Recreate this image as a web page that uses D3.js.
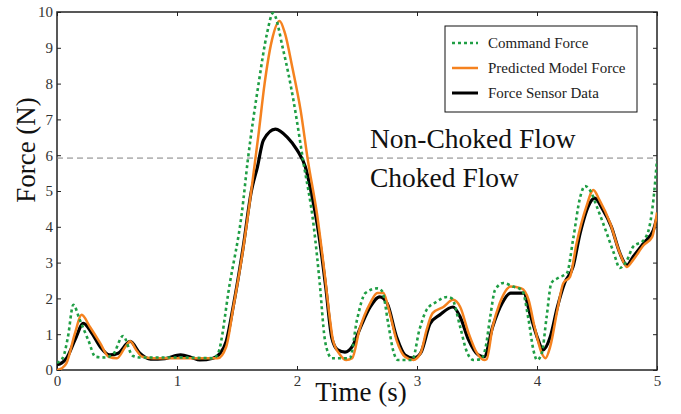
<!DOCTYPE html>
<html>
<head>
<meta charset="utf-8">
<script src="https://cdn.jsdelivr.net/npm/d3@7"></script>
<style>
  body { margin: 0; background: #fff; }
  text { font-family: "Liberation Serif", "Times New Roman", serif; }
</style>
</head>
<body>
<div id="chart"></div>
<script>
// series: [time (s), force (N)]
const commandForce = [
  [0,0.2],[0.05,0.35],[0.09,0.9],[0.136,1.82],[0.19,1.4],[0.26,0.84],[0.32,0.37],[0.4,0.35],[0.47,0.45],
  [0.55,0.95],[0.63,0.4],[0.7,0.35],[1.0,0.35],[1.3,0.33],[1.34,0.45],[1.44,2.42],[1.54,4.38],[1.59,5.86],
  [1.68,8.0],[1.75,9.4],[1.8,9.97],[1.885,8.94],[1.97,7.54],[2.05,5.87],[2.14,4.0],[2.19,2.4],[2.23,0.9],
  [2.26,0.47],[2.29,0.33],[2.44,0.33],[2.5,1.4],[2.57,2.15],[2.67,2.28],[2.71,2.2],[2.76,1.3],[2.8,0.56],
  [2.84,0.28],[2.96,0.28],[3.02,1.12],[3.08,1.68],[3.16,1.9],[3.25,2.04],[3.29,2.0],[3.36,1.2],[3.41,0.56],
  [3.47,0.28],[3.53,0.3],[3.57,0.6],[3.61,1.48],[3.65,2.23],[3.72,2.43],[3.8,2.33],[3.875,2.23],[3.93,1.4],
  [3.97,0.56],[4.0,0.28],[4.04,0.47],[4.08,1.48],[4.12,2.43],[4.175,2.57],[4.25,2.71],[4.3,3.63],[4.36,4.83],
  [4.4,5.14],[4.44,5.03],[4.5,4.55],[4.58,3.83],[4.64,3.27],[4.69,2.85],[4.75,3.07],[4.8,3.44],[4.89,3.63],
  [4.94,4.05],[4.97,4.75],[5.0,5.87]
];
const modelForce = [
  [0,0],[0.04,0.05],[0.08,0.2],[0.15,1.03],[0.205,1.54],[0.275,1.2],[0.36,0.75],[0.43,0.37],[0.5,0.33],
  [0.57,0.65],[0.61,0.8],[0.66,0.56],[0.71,0.37],[0.8,0.33],[1.34,0.33],[1.41,0.65],[1.47,1.76],[1.55,3.35],
  [1.62,5.03],[1.68,6.6],[1.73,8.0],[1.79,9.2],[1.855,9.75],[1.9,9.4],[1.96,8.47],[2.03,7.26],[2.09,5.87],
  [2.17,4.28],[2.23,2.7],[2.275,1.4],[2.3,0.83],[2.36,0.42],[2.41,0.28],[2.46,0.33],[2.52,1.12],[2.61,1.87],
  [2.67,2.15],[2.72,2.15],[2.76,1.76],[2.83,0.83],[2.9,0.37],[2.97,0.28],[3.03,0.47],[3.08,1.12],[3.13,1.59],
  [3.22,1.76],[3.3,1.96],[3.36,1.76],[3.43,1.03],[3.5,0.47],[3.56,0.28],[3.58,0.3],[3.63,1.2],[3.69,1.87],
  [3.78,2.33],[3.87,2.28],[3.93,1.96],[3.98,1.2],[4.04,0.47],[4.07,0.33],[4.11,0.65],[4.17,1.68],[4.22,2.43],
  [4.275,2.6],[4.33,3.54],[4.41,4.55],[4.47,5.03],[4.52,4.75],[4.61,4.1],[4.69,3.27],[4.75,2.88],[4.8,3.07],
  [4.89,3.49],[4.96,3.72],[5.0,4.4]
];
const sensorForce = [
  [0,0.15],[0.04,0.2],[0.08,0.33],[0.15,0.84],[0.22,1.3],[0.29,1.03],[0.36,0.65],[0.44,0.42],[0.51,0.47],
  [0.61,0.8],[0.69,0.47],[0.78,0.3],[0.9,0.32],[1.03,0.42],[1.12,0.35],[1.19,0.28],[1.3,0.33],[1.36,0.47],
  [1.41,0.8],[1.47,1.8],[1.55,3.4],[1.62,5.0],[1.67,5.67],[1.72,6.42],[1.82,6.73],[1.92,6.5],[2.0,6.15],
  [2.07,5.67],[2.12,4.94],[2.18,3.83],[2.24,2.3],[2.29,0.9],[2.34,0.56],[2.4,0.5],[2.46,0.65],[2.53,1.2],
  [2.61,1.76],[2.69,2.04],[2.75,1.87],[2.83,0.92],[2.9,0.42],[2.97,0.33],[3.03,0.47],[3.11,1.3],[3.19,1.54],
  [3.3,1.76],[3.36,1.48],[3.43,0.84],[3.51,0.42],[3.56,0.37],[3.63,1.2],[3.71,1.87],[3.78,2.15],[3.89,2.15],
  [3.94,1.59],[4.01,0.84],[4.05,0.56],[4.11,0.92],[4.17,1.76],[4.23,2.43],[4.3,2.88],[4.36,3.83],[4.44,4.66],
  [4.48,4.8],[4.55,4.47],[4.62,4.0],[4.69,3.27],[4.75,2.93],[4.8,3.16],[4.89,3.55],[4.97,3.91],[5.0,4.27]
];
const xTicks = [0, 1, 2, 3, 4, 5];
const yTicks = [0, 1, 2, 3, 4, 5, 6, 7, 8, 9, 10];
const chokedLimit = 5.92;
const legendNames = ["Command Force", "Predicted Model Force", "Force Sensor Data"];

const w = 681, h = 414;
const mLeft = 57, mRight = 657, mTop = 12, mBottom = 370;

const x = d3.scaleLinear().domain([0, 5]).range([mLeft, mRight]);
const y = d3.scaleLinear().domain([0, 10]).range([mBottom, mTop]);

const svg = d3.select("#chart").append("svg")
  .attr("width", w).attr("height", h);

svg.append("clipPath").attr("id", "plot")
  .append("rect").attr("x", mLeft).attr("y", mTop - 2)
  .attr("width", mRight - mLeft).attr("height", mBottom - mTop + 2);

// axes, ticks pointing inward on every side
const axisStyle = g => {
  g.select(".domain").remove();
  g.selectAll("line").attr("stroke", "#222").attr("stroke-width", 1);
  g.selectAll("text").attr("fill", "#333").attr("font-size", 15)
    .attr("font-family", "'Liberation Serif', serif");
};
svg.append("g").attr("transform", `translate(0,${mBottom})`)
  .call(d3.axisBottom(x).tickValues(xTicks).tickSize(-4).tickPadding(5).tickFormat(d3.format("d")))
  .call(axisStyle);
svg.append("g").attr("transform", `translate(0,${mTop})`)
  .call(d3.axisTop(x).tickValues(xTicks).tickSize(-4).tickFormat(""))
  .call(axisStyle);
svg.append("g").attr("transform", `translate(${mLeft},0)`)
  .call(d3.axisLeft(y).tickValues(yTicks).tickSize(-4).tickPadding(4).tickFormat(d3.format("d")))
  .call(axisStyle);
svg.append("g").attr("transform", `translate(${mRight},0)`)
  .call(d3.axisRight(y).tickValues(yTicks).tickSize(-4).tickFormat(""))
  .call(axisStyle);

svg.append("rect")
  .attr("x", mLeft).attr("y", mTop)
  .attr("width", mRight - mLeft).attr("height", mBottom - mTop)
  .attr("fill", "none").attr("stroke", "#222").attr("stroke-width", 1.5);

// choked / non-choked boundary
svg.append("line")
  .attr("x1", mLeft).attr("x2", mRight)
  .attr("y1", y(chokedLimit)).attr("y2", y(chokedLimit))
  .attr("stroke", "#808080").attr("stroke-width", 1)
  .attr("stroke-dasharray", "6,4");

const line = d3.line()
  .x(d => x(d[0]))
  .y(d => y(d[1]))
  .curve(d3.curveMonotoneX);

const plot = svg.append("g").attr("clip-path", "url(#plot)");
plot.append("path").datum(sensorForce)
  .attr("d", line).attr("fill", "none")
  .attr("stroke", "#000").attr("stroke-width", 3.2).attr("stroke-linejoin", "round");
plot.append("path").datum(modelForce)
  .attr("d", line).attr("fill", "none")
  .attr("stroke", "#f5821f").attr("stroke-width", 2.5);
plot.append("path").datum(commandForce)
  .attr("d", line).attr("fill", "none")
  .attr("stroke", "#1f9e44").attr("stroke-width", 2.6)
  .attr("stroke-dasharray", "3,3");

// region labels
svg.append("text").attr("x", 370).attr("y", 148)
  .attr("font-size", 27.5).attr("fill", "#111").text("Non-Choked Flow");
svg.append("text").attr("x", 370).attr("y", 187)
  .attr("font-size", 27.5).attr("fill", "#111").text("Choked Flow");

// axis labels
svg.append("text")
  .attr("text-anchor", "middle")
  .attr("transform", "translate(35,150) rotate(-90)")
  .attr("font-size", 27).attr("fill", "#111")
  .text("Force (N)");
svg.append("text")
  .attr("text-anchor", "middle")
  .attr("x", 361).attr("y", 401)
  .attr("font-size", 27).attr("fill", "#111")
  .text("Time (s)");

// legend
const legend = svg.append("g");
legend.append("rect")
  .attr("x", 445).attr("y", 26).attr("width", 192).attr("height", 86)
  .attr("fill", "#fff").attr("stroke", "#111").attr("stroke-width", 1);
const legendStyles = [
  { stroke: "#1f9e44", width: 2.6, dash: "3,3" },
  { stroke: "#f5821f", width: 2.5, dash: null },
  { stroke: "#000", width: 3, dash: null }
];
legendNames.forEach((name, i) => {
  const ly = 43 + i * 25;
  legend.append("line")
    .attr("x1", 452).attr("x2", 478).attr("y1", ly).attr("y2", ly)
    .attr("stroke", legendStyles[i].stroke)
    .attr("stroke-width", legendStyles[i].width)
    .attr("stroke-dasharray", legendStyles[i].dash);
  legend.append("text")
    .attr("x", 488).attr("y", ly).attr("dy", "0.35em")
    .attr("font-size", 15).attr("fill", "#222")
    .text(name);
});
</script>
</body>
</html>
